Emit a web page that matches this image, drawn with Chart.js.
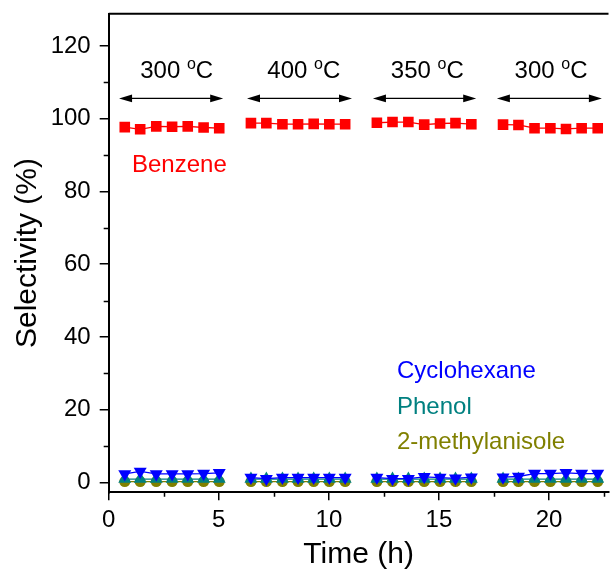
<!DOCTYPE html>
<html>
<head>
<meta charset="utf-8">
<script src="https://cdn.jsdelivr.net/npm/chart.js@4/dist/chart.umd.min.js"></script>
<style>
  html, body { margin: 0; padding: 0; background: #fff; }
  #wrap { width: 616px; height: 574px; position: relative; }
</style>
</head>
<body>
<div id="wrap"><canvas id="c" width="616" height="574"></canvas></div>
<script>
// Time on stream (h) for the four temperature runs
const run1Time = [0.73, 1.43, 2.16, 2.88, 3.59, 4.31, 5.02];
const run2Time = [6.46, 7.16, 7.89, 8.60, 9.31, 10.02, 10.74];
const run3Time = [12.18, 12.89, 13.61, 14.33, 15.05, 15.75, 16.47];
const run4Time = [17.91, 18.61, 19.34, 20.06, 20.77, 21.48, 22.21];

// Selectivity (%) per product, run by run
const benzene = [
  [97.7, 97.1, 97.9, 97.8, 97.9, 97.6, 97.4],
  [98.8, 98.8, 98.5, 98.5, 98.6, 98.5, 98.5],
  [98.9, 99.1, 99.1, 98.4, 98.7, 98.8, 98.5],
  [98.4, 98.3, 97.4, 97.4, 97.2, 97.4, 97.4]
];
const cyclohexane = [
  [2.3, 3.0, 2.3, 2.3, 2.3, 2.4, 2.6],
  [1.3, 1.0, 1.3, 1.3, 1.3, 1.3, 1.3],
  [1.3, 1.0, 1.0, 1.5, 1.3, 1.1, 1.4],
  [1.4, 1.6, 2.4, 2.4, 2.6, 2.4, 2.4]
];
const phenol = [
  [0.9, 0.9, 0.9, 0.9, 0.9, 0.9, 0.9],
  [0.9, 0.9, 0.9, 0.9, 0.9, 0.9, 0.9],
  [0.9, 0.9, 0.9, 0.9, 0.9, 0.9, 0.9],
  [0.9, 0.9, 0.9, 0.9, 0.9, 0.9, 0.9]
];
const methylanisole = [
  [0.2, 0.2, 0.2, 0.2, 0.2, 0.2, 0.2],
  [0.2, 0.2, 0.2, 0.2, 0.2, 0.2, 0.2],
  [0.2, 0.2, 0.2, 0.2, 0.2, 0.2, 0.2],
  [0.2, 0.2, 0.2, 0.2, 0.2, 0.2, 0.2]
];

// Reaction temperature annotations: label, arrow span (h)
const tempLabels = ['300', '400', '350', '300'];
const tempTextX = [3.09, 8.86, 14.47, 20.09];
const arrowSpans = [[0.47, 5.2], [6.28, 11.05], [12.0, 16.69], [17.63, 22.4]];

const runTimes = [run1Time, run2Time, run3Time, run4Time];
const FONT = '"Liberation Sans", Arial, Helvetica, sans-serif';

// Join runs into one point list with breaks between runs
function toPoints(series) {
  const pts = [];
  runTimes.forEach((times, r) => {
    times.forEach((t, i) => pts.push({ x: t, y: series[r][i] }));
    if (r < runTimes.length - 1) pts.push({ x: (times[times.length - 1] + runTimes[r + 1][0]) / 2, y: null });
  });
  return pts;
}

function series(label, data, color, style, radius, rotation) {
  return {
    label, data: toPoints(data),
    borderColor: color, backgroundColor: color,
    borderWidth: 1.3, pointStyle: style, pointRadius: radius, pointRotation: rotation || 0,
    pointBorderWidth: 0, pointBorderColor: color,
    spanGaps: false, tension: 0, fill: false
  };
}

const annotations = {
  id: 'annotations',
  afterDraw(chart) {
    const { ctx, chartArea, scales: { x, y } } = chart;
    ctx.save();
    ctx.strokeStyle = '#000';
    // top frame line
    ctx.lineWidth = 2;
    ctx.beginPath();
    ctx.moveTo(chartArea.left, chartArea.top);
    ctx.lineTo(chartArea.right, chartArea.top);
    ctx.stroke();
    // minor ticks
    ctx.lineWidth = 1.5;
    ctx.beginPath();
    for (let v = 10; v < y.max; v += 20) {
      const py = Math.round(y.getPixelForValue(v)) + 0.5;
      ctx.moveTo(chartArea.left - 5, py);
      ctx.lineTo(chartArea.left, py);
    }
    for (let v = 2.5; v < x.max; v += 5) {
      const px = Math.round(x.getPixelForValue(v)) + 0.5;
      ctx.moveTo(px, chartArea.bottom);
      ctx.lineTo(px, chartArea.bottom + 4.5);
    }
    ctx.stroke();

    // double-headed arrows for each temperature run
    const ay = y.getPixelForValue(105.6);
    ctx.fillStyle = '#000';
    ctx.lineWidth = 1.3;
    arrowSpans.forEach(([a, b]) => {
      const x1 = x.getPixelForValue(a), x2 = x.getPixelForValue(b);
      ctx.beginPath();
      ctx.moveTo(x1 + 6, ay); ctx.lineTo(x2 - 6, ay); ctx.stroke();
      ctx.beginPath();
      ctx.moveTo(x1, ay); ctx.lineTo(x1 + 13, ay - 3.8); ctx.lineTo(x1 + 13, ay + 3.8); ctx.closePath(); ctx.fill();
      ctx.beginPath();
      ctx.moveTo(x2, ay); ctx.lineTo(x2 - 13, ay - 3.8); ctx.lineTo(x2 - 13, ay + 3.8); ctx.closePath(); ctx.fill();
    });

    // temperature labels with superscript degree "o"
    ctx.textBaseline = 'alphabetic';
    ctx.textAlign = 'left';
    const base = 77.7;
    tempLabels.forEach((t, i) => {
      const big = '24px ' + FONT, small = '16px ' + FONT;
      ctx.font = big;
      const w1 = ctx.measureText(t + ' ').width, w3 = ctx.measureText('C').width;
      ctx.font = small;
      const w2 = ctx.measureText('o').width;
      let sx = x.getPixelForValue(tempTextX[i]) - (w1 + w2 + w3) / 2;
      ctx.font = big; ctx.fillText(t + ' ', sx, base); sx += w1;
      ctx.font = small; ctx.fillText('o', sx, base - 9); sx += w2;
      ctx.font = big; ctx.fillText('C', sx, base);
    });

    // series labels
    ctx.font = '24px ' + FONT;
    ctx.fillStyle = '#FF0000'; ctx.fillText('Benzene', 132, 171.7);
    ctx.fillStyle = '#0000FF'; ctx.fillText('Cyclohexane', 397, 378.3);
    ctx.fillStyle = '#008080'; ctx.fillText('Phenol', 397, 414);
    ctx.fillStyle = '#808000'; ctx.fillText('2-methylanisole', 397, 449);
    ctx.restore();
  }
};

new Chart(document.getElementById('c'), {
  type: 'line',
  data: {
    datasets: [
      series('Benzene', benzene, '#FF0000', 'rect', 7.5),
      series('Cyclohexane', cyclohexane, '#0000FF', 'triangle', 7.5, 180),
      series('Phenol', phenol, '#008080', 'triangle', 7.5),
      series('2-methylanisole', methylanisole, '#808000', 'circle', 5.5)
    ]
  },
  options: {
    responsive: false,
    animation: false,
    devicePixelRatio: 1,
    layout: { padding: { left: 0, right: 0, top: 13.7, bottom: 0 } },
    plugins: { legend: { display: false }, tooltip: { enabled: false } },
    scales: {
      x: {
        type: 'linear', min: 0, max: 22.7,
        afterFit(s) { s.height = 81.7; s.paddingLeft = 0; s.paddingRight = 0; },
        ticks: { stepSize: 5, includeBounds: false, maxRotation: 0, color: '#000', padding: 6,
                 font: { size: 24, family: FONT } },
        grid: { drawOnChartArea: false, drawTicks: true, tickLength: 8, color: '#000', lineWidth: 1.5 },
        border: { display: true, color: '#000', width: 2 },
        title: { display: true, text: 'Time (h)', color: '#000', font: { size: 30, family: FONT },
                 padding: { top: 0, bottom: 1 } }
      },
      y: {
        min: -2.75, max: 128.9,
        afterFit(s) { s.width = 108.7; s.paddingTop = 0; s.paddingBottom = 0; },
        ticks: { stepSize: 20, includeBounds: false, color: '#000', padding: 9,
                 font: { size: 24, family: FONT } },
        grid: { drawOnChartArea: false, drawTicks: true, tickLength: 9, color: '#000', lineWidth: 1.5 },
        border: { display: true, color: '#000', width: 2 },
        title: { display: true, text: 'Selectivity (%)', color: '#000', font: { size: 30, family: FONT },
                 padding: { top: 10, bottom: 0 } }
      }
    }
  },
  plugins: [annotations]
});
</script>
</body>
</html>
